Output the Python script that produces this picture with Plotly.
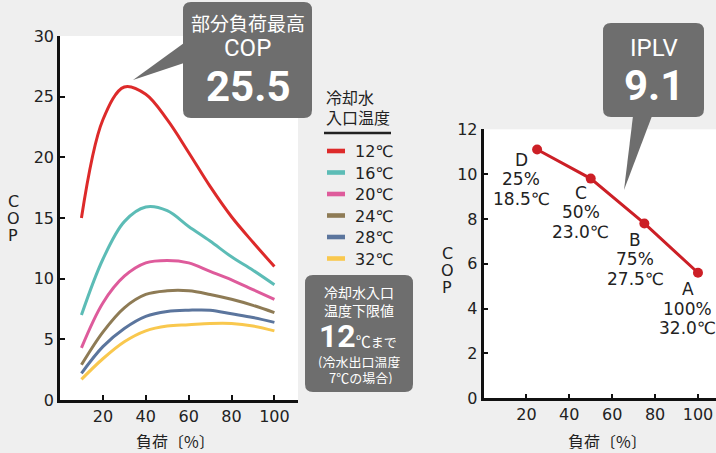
import plotly.graph_objects as go

# ---------------- data ----------------
load_pct = [10, 20, 30, 40, 50, 60, 70, 80, 90, 100]
cop_12 = [15.0, 23.1, 25.8, 25.2, 23.1, 20.4, 17.6, 15.1, 13.0, 11.0]
cop_16 = [7.0, 11.6, 14.7, 15.9, 15.6, 14.3, 13.1, 11.8, 10.7, 9.5]
cop_20 = [4.3, 8.0, 10.2, 11.3, 11.5, 11.3, 10.6, 9.9, 9.1, 8.3]
cop_24 = [2.9, 5.6, 7.6, 8.7, 9.0, 9.0, 8.7, 8.3, 7.8, 7.2]
cop_28 = [2.2, 4.4, 5.9, 6.9, 7.3, 7.4, 7.4, 7.1, 6.8, 6.4]
cop_32 = [1.7, 3.4, 4.8, 5.7, 6.1, 6.2, 6.3, 6.3, 6.1, 5.7]
series_names = ["12℃", "16℃", "20℃", "24℃", "28℃", "32℃"]
series_values = [cop_12, cop_16, cop_20, cop_24, cop_28, cop_32]

iplv_load = [25, 50, 75, 100]
iplv_cop = [11.1, 9.8, 7.8, 5.6]
iplv_point = ["D", "C", "B", "A"]
iplv_pct = ["25%", "50%", "75%", "100%"]
iplv_temp = ["18.5℃", "23.0℃", "27.5℃", "32.0℃"]

left_xticks = [20, 40, 60, 80, 100]
left_yticks = [0, 5, 10, 15, 20, 25, 30]
right_xticks = [20, 40, 60, 80, 100]
right_yticks = [0, 2, 4, 6, 8, 10, 12]

# ---------------- styles ----------------
W, H = 716, 453
colors = ["#dd2a2a", "#5cbcb6", "#de5b9b", "#8e7b55", "#5b759d", "#f9c84e"]
JP = "Noto Sans CJK JP, Noto Sans, sans-serif"
LAT = "DejaVu Sans, Noto Sans CJK JP, sans-serif"
NUM = "Roboto, Noto Sans, sans-serif"
TXT = "#222222"
BOX = "#6e6e6e"


def px(x):
    return x / W


def py(y):
    return 1 - y / H


def rrect(x0, y0, x1, y1, r):
    pts = [
        f"M {px(x0 + r)} {py(y0)}",
        f"L {px(x1 - r)} {py(y0)}",
        f"Q {px(x1)} {py(y0)} {px(x1)} {py(y0 + r)}",
        f"L {px(x1)} {py(y1 - r)}",
        f"Q {px(x1)} {py(y1)} {px(x1 - r)} {py(y1)}",
        f"L {px(x0 + r)} {py(y1)}",
        f"Q {px(x0)} {py(y1)} {px(x0)} {py(y1 - r)}",
        f"L {px(x0)} {py(y0 + r)}",
        f"Q {px(x0)} {py(y0)} {px(x0 + r)} {py(y0)}",
        "Z",
    ]
    return " ".join(pts)


def tri(a, b, c):
    return (f"M {px(a[0])} {py(a[1])} L {px(b[0])} {py(b[1])} "
            f"L {px(c[0])} {py(c[1])} Z")


fig = go.Figure()

for name, vals, col in zip(series_names, series_values, colors):
    fig.add_trace(go.Scatter(
        x=load_pct, y=vals, mode="lines", name=name,
        line=dict(color=col, width=3, shape="spline", smoothing=1.0),
        xaxis="x", yaxis="y", showlegend=False, hoverinfo="skip"))

fig.add_trace(go.Scatter(
    x=iplv_load, y=iplv_cop, mode="lines+markers", name="IPLV",
    line=dict(color="#cc1f26", width=3),
    marker=dict(color="#cc1f26", size=10),
    xaxis="x2", yaxis="y2", showlegend=False, hoverinfo="skip"))

axis_common = dict(
    showgrid=False, zeroline=False, showline=True, linecolor="#111111",
    linewidth=2.5, ticks="inside", ticklen=5, tickwidth=2, automargin=False,
    tickcolor="#111111", tickfont=dict(family=LAT, size=16, color=TXT),
)

shapes = []
annotations = []

# callout boxes
shapes.append(dict(type="path", path=rrect(183, 2, 312, 118, 8),
                   xref="paper", yref="paper", fillcolor=BOX, line=dict(width=0)))
shapes.append(dict(type="path", path=tri((184, 43), (184, 63), (133, 80)),
                   xref="paper", yref="paper", fillcolor=BOX, line=dict(width=0)))
shapes.append(dict(type="path", path=rrect(603, 23, 704, 117, 8),
                   xref="paper", yref="paper", fillcolor=BOX, line=dict(width=0)))
shapes.append(dict(type="path", path=tri((633, 116), (652, 116), (624, 190)),
                   xref="paper", yref="paper", fillcolor=BOX, line=dict(width=0)))
shapes.append(dict(type="path", path=rrect(305, 275, 413, 392, 8),
                   xref="paper", yref="paper", fillcolor=BOX, line=dict(width=0)))


def txt(x, y, s, size, family=JP, color="white", xanchor="center", h=None):
    a = dict(x=px(x), y=py(y), xref="paper", yref="paper",
             text=s, showarrow=False, xanchor=xanchor,
             yanchor="middle",
             font=dict(family=family, size=size, color=color))
    if h is not None:
        a["height"] = h
    annotations.append(a)


txt(247.5, 22, "部分負荷最高", 19)
txt(247.5, 48, "COP", 24, NUM)
txt(247.5, 87, "<b>25.5</b>", 42, NUM)
txt(653.5, 48, "IPLV", 24, NUM)
txt(653.5, 86, "<b>9.1</b>", 42, NUM)

txt(359, 291, "冷却水入口", 14, h=17)
txt(359, 309, "温度下限値", 14, h=17)
txt(358, 336, '<span style="font-family:Roboto;font-weight:bold;font-size:32px">12</span>'
    '<span style="font-size:15px">℃</span>まで', 13, h=28)
txt(359, 361, "(冷水出口温度", 13, h=14)
txt(361, 377, "7℃の場合)", 13, h=14)

# legend
txt(324, 97, "冷却水", 16, color=TXT, xanchor="left", h=18)
txt(324, 117, "入口温度", 16, color=TXT, xanchor="left", h=18)
shapes.append(dict(type="line", x0=px(324), x1=px(391), y0=py(133), y1=py(133),
                   xref="paper", yref="paper", line=dict(color="#222222", width=2.5)))
leg_y = [151, 172.5, 194, 215.5, 237, 258.5]
for name, col, yc in zip(series_names, colors, leg_y):
    shapes.append(dict(type="rect", x0=px(327), x1=px(345), y0=py(yc - 2.3),
                       y1=py(yc + 2.3), xref="paper", yref="paper",
                       fillcolor=col, line=dict(width=0)))
    txt(353, yc, name, 16, family=LAT, color=TXT, xanchor="left", h=20)

# axis titles
for x, y, ch in [(13, 201, "C"), (13, 218, "O"), (13, 235, "P"),
                 (447, 253, "C"), (447, 270, "O"), (447, 287, "P")]:
    txt(x, y, ch, 16, family=LAT, color=TXT, h=14)
txt(175, 441, "負荷〔%〕", 16, color=TXT, h=16)
txt(607, 441, "負荷〔%〕", 16, color=TXT, h=16)

# IPLV point labels (one annotation per line)
lab_dx = [-16, -10, -9, -10]
lab_dy = [10, 14, 16, 16]
line_gap = 19.3
for xv, yv, p, pc, t, dx, dy in zip(iplv_load, iplv_cop, iplv_point, iplv_pct,
                                    iplv_temp, lab_dx, lab_dy):
    for i, s in enumerate([p, pc, t]):
        annotations.append(dict(x=xv, y=yv, xref="x2", yref="y2",
                                text=s, showarrow=False, height=17,
                                xshift=dx, yshift=-(dy + i * line_gap),
                                xanchor="center", yanchor="middle",
                                font=dict(family=LAT, size=17, color=TXT)))

fig.update_layout(
    width=W, height=H, autosize=False,
    margin=dict(l=0, r=0, t=0, b=0, pad=0),
    paper_bgcolor="#efefef", plot_bgcolor="white",
    xaxis=dict(domain=[px(60), px(298)], range=[0, 111], tickvals=left_xticks,
               anchor="y", **axis_common),
    yaxis=dict(domain=[py(400), py(36)], range=[0, 30], tickvals=left_yticks,
               anchor="x", **axis_common),
    xaxis2=dict(domain=[px(483.5), 1.0], range=[0, 108.4], tickvals=right_xticks,
                anchor="y2", **axis_common),
    yaxis2=dict(domain=[py(398.3), py(129.3)], range=[0, 12], tickvals=right_yticks,
                anchor="x2", **axis_common),
    shapes=shapes, annotations=annotations,
    showlegend=False,
)

fig.write_html("out.html", config={"displayModeBar": False},
               post_script="document.body.style.margin='0';"
                           "document.body.style.overflow='hidden';")
